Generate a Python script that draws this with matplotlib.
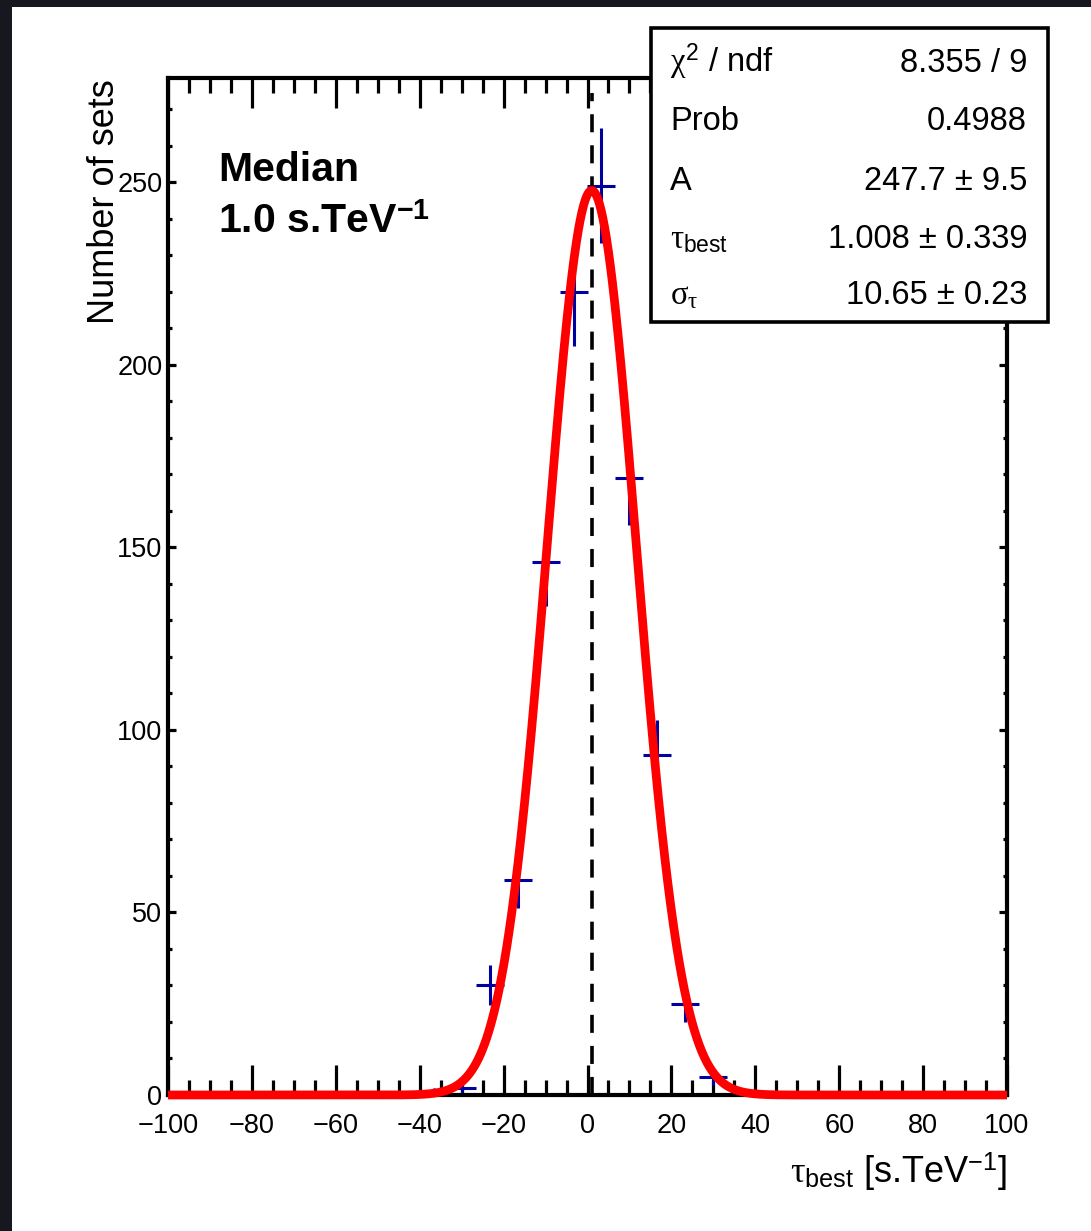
import numpy as np
import matplotlib.pyplot as plt
from matplotlib.patches import Rectangle
from matplotlib.ticker import MultipleLocator

plt.rcParams['font.family'] = ['Liberation Sans', 'DejaVu Sans']
plt.rcParams['mathtext.fontset'] = 'custom'
plt.rcParams['mathtext.rm'] = 'Liberation Sans'
plt.rcParams['mathtext.it'] = 'Liberation Serif'
plt.rcParams['mathtext.bf'] = 'Liberation Sans:bold'
plt.rcParams['mathtext.sf'] = 'Liberation Sans'

# Histogram of tau_best over the 1000 sets (bins of 200/30)
bin_centers = [-36.67, -30.0, -23.33, -16.67, -10.0, -3.33, 3.33, 10.0, 16.67, 23.33, 30.0]
counts = [1, 2, 30, 59, 146, 220, 249, 169, 93, 25, 5]
bin_half_width = 3.333

# Gaussian fit results
fit_A, fit_A_err = 247.7, 9.5
fit_mean, fit_mean_err = 1.008, 0.339
fit_sigma, fit_sigma_err = 10.65, 0.23
chi2, ndf, prob = 8.355, 9, 0.4988
median_value = 1.0

W, H = 1091, 1231
fig = plt.figure(figsize=(W / 100, H / 100), dpi=100)
fig.patch.set_facecolor('#17171f')
fig.add_artist(Rectangle((12 / W, 0), 1, 1 - 7 / H, transform=fig.transFigure,
                         facecolor='white', edgecolor='none', zorder=-5))

ax = fig.add_axes([168 / W, 1 - 1095 / H, 839 / W, 1017 / H])

centers = np.array(bin_centers)
n = np.array(counts, dtype=float)
ax.errorbar(centers, n, xerr=bin_half_width, yerr=np.sqrt(n), fmt='none',
            ecolor='#0000a0', elinewidth=2.2, capsize=0, zorder=2)

ax.axvline(median_value, ymax=0.985, color='black', linewidth=2.6,
           dashes=(5, 3.6), zorder=3)

xs = np.linspace(-100, 100, 2000)
ax.plot(xs, fit_A * np.exp(-0.5 * ((xs - fit_mean) / fit_sigma) ** 2),
        color='#ff0000', linewidth=6.3, zorder=4, clip_on=False,
        solid_capstyle='butt')

ax.set_xlim(-100, 100)
ax.set_ylim(0, 278.5)
ax.xaxis.set_major_locator(MultipleLocator(20))
ax.xaxis.set_minor_locator(MultipleLocator(5))
ax.yaxis.set_major_locator(MultipleLocator(50))
ax.yaxis.set_minor_locator(MultipleLocator(10))

ax.tick_params(axis='x', which='both', direction='in', top=True, bottom=True,
               width=2.3, labelsize=19.5, pad=13)
ax.tick_params(axis='x', which='major', length=21.6)
ax.tick_params(axis='x', which='minor', length=10.8)
ax.tick_params(axis='y', which='both', direction='in', left=True, right=True,
               width=2.3, labelsize=19.5, pad=4)
ax.tick_params(axis='y', which='major', length=5.8)
ax.tick_params(axis='y', which='minor', length=3)
for s in ax.spines.values():
    s.set_linewidth(3)

ax.text(50 / 839, (1095 - 181) / 1017, 'Median',
        transform=ax.transAxes, fontsize=29.5, fontweight='bold', va='baseline')
ax.text(50 / 839, (1095 - 233) / 1017, '1.0 s.TeV$^{\\mathbf{-1}}$',
        transform=ax.transAxes, fontsize=29.5, fontweight='bold', va='baseline')

fig.text(105 / W, 1 - 79 / H, 'Number of sets', rotation=90, fontsize=26,
         ha='center', va='top')
fig.text(1007 / W, 1 - 1183 / H, r'$\tau_{\mathrm{best}}$ [s.TeV$^{-1}$]',
         fontsize=26, ha='right', va='baseline')

# Stats box
fig.add_artist(Rectangle((651 / W, 1 - 322 / H), 397 / W, 294 / H,
                         transform=fig.transFigure, facecolor='white',
                         edgecolor='black', linewidth=2.6, zorder=5))
stat_labels = [r'$\chi^{2}$ / ndf', 'Prob', 'A', r'$\tau_{\mathrm{best}}$', r'$\sigma_{\tau}$']
stat_values = [f'{chi2:.3f} / {ndf}', f'{prob:.4f}', f'{fit_A} ± {fit_A_err}',
               f'{fit_mean:.3f} ± {fit_mean_err:.3f}', f'{fit_sigma:.2f} ± {fit_sigma_err:.2f}']
baselines = [72, 130, 190, 248, 304]
for lab, val, yb in zip(stat_labels, stat_values, baselines):
    fig.text(670 / W, 1 - yb / H, lab, fontsize=23.5, ha='left', va='baseline', zorder=6)
    fig.text(1027 / W, 1 - yb / H, val, fontsize=23.5, ha='right', va='baseline', zorder=6)

fig.savefig('out.png', dpi=100, facecolor=fig.get_facecolor())
